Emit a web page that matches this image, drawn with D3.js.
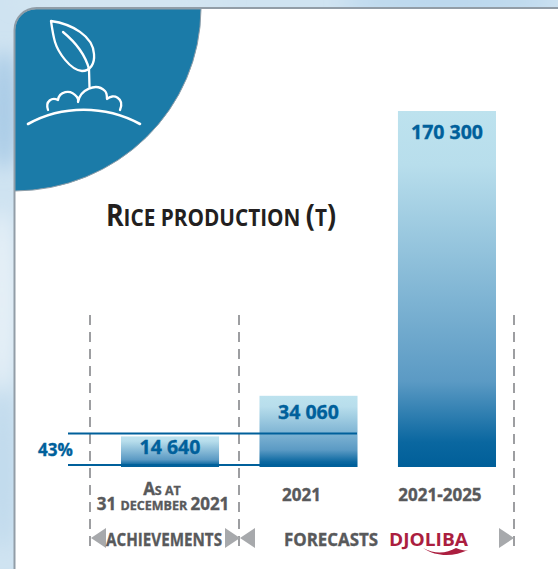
<!DOCTYPE html>
<html>
<head>
  <meta charset="utf-8">
  <title>Rice production</title>
  <script src="https://d3js.org/d3.v7.min.js"></script>
  <style>
    html, body { margin: 0; padding: 0; background: #cfe3f1; }
    svg { display: block; }
    text { font-family: "Open Sans", "Noto Sans", sans-serif; font-weight: 700; }
    .heavy { stroke-width: 0.35; paint-order: stroke; }
  </style>
</head>
<body>
  <div id="chart"></div>

  <script>
    // data
    var categories = ["As at 31 december 2021", "2021", "2021-2025"];
    var values = [14640, 34060, 170300];
    var valueLabels = ["14 640", "34 060", "170 300"];
    var shareLabel = "43%";
    var sectionLabels = ["ACHIEVEMENTS", "FORECASTS"];

    var width = 558, height = 569;
    var blue = "#00609b", grey = "#58595b", arrowGrey = "#a7a9ac";

    var svg = d3.select("#chart").append("svg")
      .attr("width", width)
      .attr("height", height);

    var defs = svg.append("defs");

    // bar fill, light on top, dark at the bottom
    var grad = defs.append("linearGradient")
      .attr("id", "barFill")
      .attr("x1", 0).attr("x2", 0).attr("y1", 0).attr("y2", 1);
    grad.append("stop").attr("offset", "0%").attr("stop-color", "#bde2ee");
    grad.append("stop").attr("offset", "15%").attr("stop-color", "#b8deec");
    grad.append("stop").attr("offset", "76%").attr("stop-color", "#5b9ac4");
    grad.append("stop").attr("offset", "93%").attr("stop-color", "#0a67a0");
    grad.append("stop").attr("offset", "100%").attr("stop-color", "#005f99");

    defs.append("filter").attr("id", "soft")
      .attr("x", "-50%").attr("y", "-50%").attr("width", "200%").attr("height", "200%")
      .append("feGaussianBlur").attr("stdDeviation", 9);

    // sky behind the panel
    var sky = svg.append("g").attr("filter", "url(#soft)");
    sky.append("ellipse").attr("cx", 4).attr("cy", 110).attr("rx", 14).attr("ry", 60).attr("fill", "#a9cbe6");
    sky.append("ellipse").attr("cx", 2).attr("cy", 300).attr("rx", 14).attr("ry", 90).attr("fill", "#e6f0f7");
    sky.append("ellipse").attr("cx", 3).attr("cy", 470).attr("rx", 12).attr("ry", 80).attr("fill", "#bfd9ec");
    sky.append("ellipse").attr("cx", 450).attr("cy", 2).attr("rx", 110).attr("ry", 6).attr("fill", "#a9cdea");
    sky.append("ellipse").attr("cx", 120).attr("cy", 2).attr("rx", 110).attr("ry", 5).attr("fill", "#d9e8f2");

    // panel
    svg.append("rect")
      .attr("x", 14.5).attr("y", 8).attr("width", 565).attr("height", 590)
      .attr("rx", 22)
      .attr("fill", "#fff")
      .attr("stroke", "#929da7")
      .attr("stroke-width", 2);

    // teal corner
    svg.append("path")
      .attr("d", "M15 191 A187 183 0 0 0 201 9 L36 9 A21 21 0 0 0 15 30 Z")
      .attr("fill", "#1b7ba8")
      .attr("stroke", "#8f9ea9")
      .attr("stroke-width", 1);

    // plant icon
    var icon = svg.append("g")
      .attr("fill", "none")
      .attr("stroke", "#fff")
      .attr("stroke-width", 2.3)
      .attr("stroke-linecap", "round")
      .attr("stroke-linejoin", "round");
    icon.append("path").attr("d", "M51 21 C72 24 93 36 94 54 C95 64 90 71 82 71 C70 70 58 52 55 42 C53 35 52 28 51 21 Z");
    icon.append("path").attr("d", "M63 32 C74 41 85 54 89 69 L89.5 87");
    icon.append("path").attr("d", "M48 110 C45 101 52 97 58 100 C59 92 70 88 77 97 C79 100 78 101 78 102 C80 90 96 82 105 91 C107 93 107 95 107 99 C113 93 125 98 120 110");
    icon.append("path").attr("d", "M28 124 C62 105 105 105 140 124").attr("stroke-width", 2.6);

    // scales
    var x = d3.scaleBand()
      .domain(categories)
      .range([121, 496])
      .paddingInner(0.292)
      .paddingOuter(0);

    var y = d3.scaleLinear()
      .domain([0, d3.max(values)])
      .range([467, 111]);

    // dashed separators
    svg.selectAll(".sep")
      .data([90, 239, 514])
      .enter().append("line")
      .attr("class", "sep")
      .attr("x1", d => d).attr("x2", d => d)
      .attr("y1", 315).attr("y2", 548)
      .attr("stroke", "#7d7f82")
      .attr("stroke-width", 1.5)
      .attr("stroke-dasharray", "10 7");

    // bars
    svg.selectAll(".bar")
      .data(values)
      .enter().append("rect")
      .attr("class", "bar")
      .attr("x", (d, i) => x(categories[i]))
      .attr("y", d => y(d))
      .attr("width", x.bandwidth())
      .attr("height", d => y(0) - y(d))
      .attr("fill", "url(#barFill)");

    // value labels
    var labelDy = [18, 23, 28];
    svg.selectAll(".bar-label")
      .data(values)
      .enter().append("text")
      .attr("class", "bar-label heavy")
      .attr("x", (d, i) => x(categories[i]) + x.bandwidth() / 2)
      .attr("y", (d, i) => y(d) + labelDy[i])
      .attr("text-anchor", "middle")
      .attr("fill", blue)
      .attr("stroke", blue)
      .attr("font-size", 19.5)
      .text((d, i) => valueLabels[i]);

    // 43% lines
    svg.selectAll(".share")
      .data([433.5, 465])
      .enter().append("line")
      .attr("class", "share")
      .attr("x1", 68).attr("x2", 357)
      .attr("y1", d => d)
      .attr("y2", d => d)
      .attr("stroke", blue)
      .attr("stroke-width", 1.8);

    svg.append("text")
      .attr("class", "heavy")
      .attr("x", 55.5).attr("y", 456)
      .attr("text-anchor", "middle")
      .attr("fill", blue)
      .attr("stroke", blue)
      .attr("font-size", 17)
      .text(shareLabel);

    // small caps are built by hand so sizes stay close
    function smallCaps(sel, parts, big, small) {
      parts.forEach(function(p) {
        sel.append("tspan")
          .attr("font-size", p[1] ? big : small)
          .text(p[0]);
      });
    }

    // title, squeezed because no condensed bold font is installed
    var title = svg.append("text")
      .attr("transform", "translate(221,226) scale(0.865,1)")
      .attr("text-anchor", "middle")
      .attr("fill", "#231f20");
    smallCaps(title, [["R", 1], ["ICE PRODUCTION ", 0], ["(", 1], ["T", 0], [")", 1]], 31, 24);

    // first category label, two lines in one text
    var label1 = svg.append("text")
      .attr("class", "heavy")
      .attr("text-anchor", "middle")
      .attr("fill", grey)
      .attr("stroke", grey);
    var line1 = label1.append("tspan").attr("x", 162).attr("y", 495);
    smallCaps(line1, [["A", 1], ["S AT", 0]], 17, 12.5);
    var line2 = label1.append("tspan").attr("x", 163).attr("y", 510);
    smallCaps(line2, [["31 ", 1], ["DECEMBER ", 0], ["2021", 1]], 17, 12.5);

    svg.selectAll(".cat")
      .data(categories.slice(1))
      .enter().append("text")
      .attr("class", "cat heavy")
      .attr("x", d => x(d) + x.bandwidth() / 2 - 7)
      .attr("y", 501)
      .attr("text-anchor", "middle")
      .attr("fill", grey)
      .attr("stroke", grey)
      .attr("font-size", 17)
      .text(d => d);

    // section arrows, the first number is the flat side
    var arrows = [[106, -1], [225, 1], [255, -1], [499, 1]];
    svg.selectAll(".arrow")
      .data(arrows)
      .enter().append("path")
      .attr("class", "arrow")
      .attr("transform", d => "translate(" + d[0] + ",538) scale(" + d[1] + ",1)")
      .attr("d", "M0 -10 L0 10 L15 0 Z")
      .attr("fill", arrowGrey);

    svg.append("text")
      .attr("class", "heavy")
      .attr("x", 164).attr("y", 546)
      .attr("text-anchor", "middle")
      .attr("fill", grey)
      .attr("stroke", grey)
      .attr("font-size", 18)
      .attr("textLength", 116)
      .attr("lengthAdjust", "spacingAndGlyphs")
      .text(sectionLabels[0]);

    svg.append("text")
      .attr("class", "heavy")
      .attr("x", 331).attr("y", 546)
      .attr("text-anchor", "middle")
      .attr("fill", grey)
      .attr("stroke", grey)
      .attr("font-size", 18)
      .attr("textLength", 94)
      .attr("lengthAdjust", "spacingAndGlyphs")
      .text(sectionLabels[1]);

    // logo
    svg.append("text")
      .attr("x", 389).attr("y", 546)
      .attr("fill", "#ab1e3f")
      .attr("font-size", 18)
      .attr("textLength", 79)
      .attr("lengthAdjust", "spacingAndGlyphs")
      .text("DJOLIBA");
    svg.append("path")
      .attr("d", "M423 548 C436 555 447 553 456 548 C461 550 465 551 468 550 C455 556 438 558 423 548 Z")
      .attr("fill", "#ab1e3f");
  </script>
</body>
</html>
